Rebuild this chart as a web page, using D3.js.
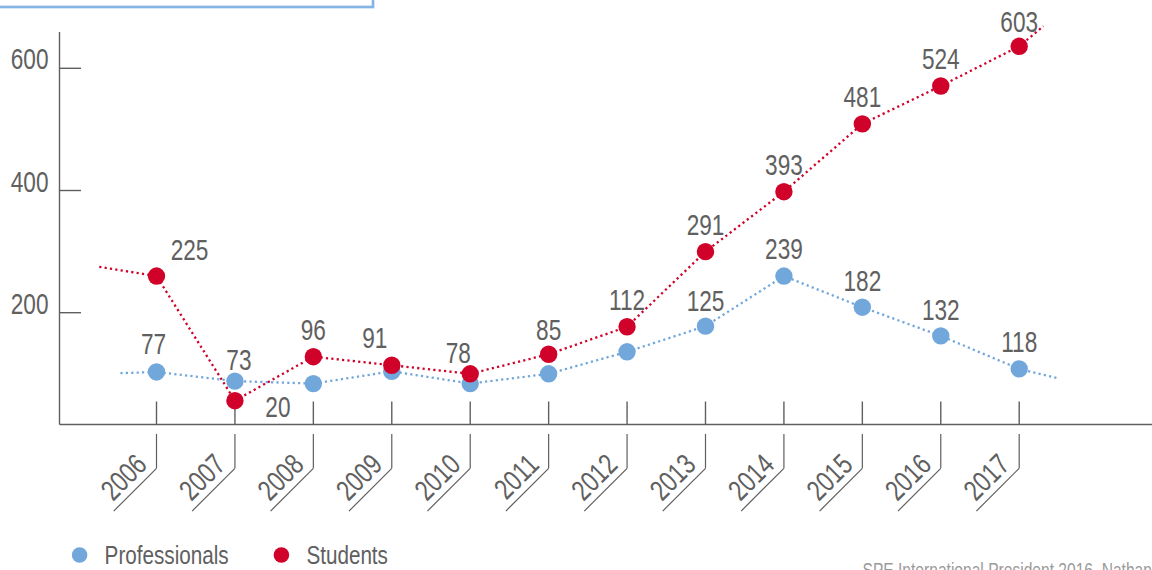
<!DOCTYPE html>
<html>
<head>
<meta charset="utf-8">
<script src="https://cdn.jsdelivr.net/npm/d3@7"></script>
<style>
  body { margin: 0; background: #fff; }
  svg { display: block; }
</style>
</head>
<body>
<div id="chart"></div>
<script>
// data
const years = [2006, 2007, 2008, 2009, 2010, 2011, 2012, 2013, 2014, 2015, 2016, 2017];
// numbers printed next to the dots (null = no label shown)
const professionals = [77, 73, null, null, null, null, null, 125, 239, 182, 132, 118];
const students = [225, 20, 96, 91, 78, 85, 112, 291, 393, 481, 524, 603];
// where the dots sit on the drawn axis (the graphic does not plot the printed numbers)
const professionalsPlot = [103, 88, 84, 104, 84, 100, 136, 178, 260, 209, 162, 108];
const studentsPlot = [260, 56, 128, 114, 100, 132, 177, 300, 398, 509, 571, 636];
// dotted lines run a little past the first and last year
const professionalsEnds = [[2005.54, 101], [2017.49, 93]];
const studentsEnds = [[2005.27, 275], [2017.31, 669]];
const yTicks = [200, 400, 600];
const legendItems = ["Professionals", "Students"];
const sourceText = "SPE International President 2016, Nathan";

const W = 1152, H = 570;
const FONT = "'Liberation Sans', Arial, sans-serif";
const NARROW = 0.78; // the original uses a condensed face; squeeze a regular one
const BLUE = "#72a7db", RED = "#d0022a", GREY = "#606060", AXIS = "#5f5f5f";

const svg = d3.select("#chart").append("svg")
  .attr("width", W)
  .attr("height", H)
  .style("font-family", FONT);

/** place a text at (px, py) squeezed horizontally */
function squeeze(px, py) {
  return "translate(" + px + "," + py + ") scale(" + NARROW + ",1)";
}

/** scales */
const x = d3.scaleLinear().domain([2006, 2017]).range([156.5, 1019.2]);
const y = d3.scaleLinear().domain([0, 600]).range([434.9, 68.3]);
const axisY = 424.5, axisX = 59.5;

/** light blue box at the top left (cut by the frame) */
svg.append("rect")
  .attr("x", -10).attr("y", -10)
  .attr("width", 383).attr("height", 17)
  .attr("fill", "#fff")
  .attr("stroke", "#86b4e4")
  .attr("stroke-width", 2.7);

/** y axis */
const gy = svg.append("g").attr("id", "y-axis");
gy.append("line")
  .attr("x1", axisX).attr("x2", axisX)
  .attr("y1", 32).attr("y2", axisY)
  .attr("stroke", AXIS).attr("stroke-width", 1.4);
gy.selectAll("line.tick")
  .data(yTicks)
  .enter().append("line")
  .attr("class", "tick")
  .attr("x1", axisX).attr("x2", 81)
  .attr("y1", d => y(d)).attr("y2", d => y(d))
  .attr("stroke", AXIS).attr("stroke-width", 1.4);
gy.selectAll("text")
  .data(yTicks)
  .enter().append("text")
  .attr("transform", d => squeeze(48.5, y(d) + 1))
  .attr("text-anchor", "end")
  .attr("fill", GREY)
  .style("font-size", "29px")
  .text(d => d);

/** x axis with the bracketed, slanted year labels */
const gx = svg.append("g").attr("id", "x-axis");
gx.append("line")
  .attr("x1", axisX).attr("x2", W)
  .attr("y1", axisY).attr("y2", axisY)
  .attr("stroke", AXIS).attr("stroke-width", 1.4);

const yearG = gx.selectAll("g.year")
  .data(years)
  .enter().append("g")
  .attr("class", "year");
yearG.append("line")
  .attr("x1", d => x(d)).attr("x2", d => x(d))
  .attr("y1", 401.5).attr("y2", axisY)
  .attr("stroke", AXIS).attr("stroke-width", 1.4);
yearG.append("line")
  .attr("x1", d => x(d)).attr("x2", d => x(d))
  .attr("y1", 434).attr("y2", 468.3)
  .attr("stroke", AXIS).attr("stroke-width", 1.2);
const slant = yearG.append("g")
  .attr("transform", d => "translate(" + x(d) + ",468.3) rotate(-45)");
slant.append("line")
  .attr("x1", 0).attr("x2", -60.5)
  .attr("y1", 0).attr("y2", 0)
  .attr("stroke", AXIS).attr("stroke-width", 1.2);
slant.append("text")
  .attr("transform", squeeze(-4.3, -7))
  .attr("text-anchor", "end")
  .attr("fill", GREY)
  .style("font-size", "29px")
  .text(d => d);

/** series */
const line = d3.line().x(d => x(d[0])).y(d => y(d[1]));

function drawSeries(name, plot, ends, color, dash) {
  const pts = [ends[0]].concat(years.map((yr, i) => [yr, plot[i]]), [ends[1]]);
  const g = svg.append("g").attr("id", name);
  g.append("path")
    .attr("d", line(pts))
    .attr("fill", "none")
    .attr("stroke", color)
    .attr("stroke-width", 2.3)
    .attr("stroke-dasharray", dash);
  g.selectAll("circle")
    .data(years)
    .enter().append("circle")
    .attr("cx", d => x(d))
    .attr("cy", (d, i) => y(plot[i]))
    .attr("r", 8.7)
    .attr("fill", color);
  return g;
}

function drawLabels(g, plot, values, offsets) {
  g.selectAll("text")
    .data(years.filter((d, i) => values[i] != null))
    .enter().append("text")
    .attr("transform", d => squeeze(
      x(d) + ((offsets[d] || {}).dx || 0),
      y(plot[years.indexOf(d)]) + ((offsets[d] || {}).dy || -17)))
    .attr("text-anchor", "middle")
    .attr("fill", GREY)
    .style("font-size", "29px")
    .text(d => values[years.indexOf(d)]);
}

const gp = drawSeries("professionals", professionalsPlot, professionalsEnds, BLUE, "2.2 3.2");
const gs = drawSeries("students", studentsPlot, studentsEnds, RED, "2.2 3.2");

// label placement tweaks, as laid out in the graphic
drawLabels(gp, professionalsPlot, professionals, {
  2006: { dx: -3, dy: -18 }, 2007: { dx: 4, dy: -11 }, 2013: { dy: -15 },
  2015: { dy: -16 }, 2016: { dy: -16 }
});
drawLabels(gs, studentsPlot, students, {
  2006: { dx: 33, dy: -16 }, 2007: { dx: 43, dy: 16 }, 2009: { dx: -17, dy: -17 },
  2010: { dx: -12, dy: -11 }, 2011: { dy: -14 }, 2017: { dy: -14 }
});

/** legend */
const legend = svg.append("g").attr("id", "legend");
const legendX = [79.6, 281.4];
legend.selectAll("circle")
  .data(legendItems)
  .enter().append("circle")
  .attr("cx", (d, i) => legendX[i])
  .attr("cy", 555)
  .attr("r", 7.8)
  .attr("fill", (d, i) => i ? RED : BLUE);
legend.selectAll("text")
  .data(legendItems)
  .enter().append("text")
  .attr("transform", (d, i) => squeeze(legendX[i] + 25, 564))
  .attr("fill", GREY)
  .style("font-size", "26.5px")
  .text(d => d);

/** source line, cut by the bottom edge */
svg.append("text")
  .attr("transform", squeeze(862.5, 577))
  .attr("fill", "#9a9a9a")
  .style("font-size", "20px")
  .text(sourceText);
</script>
</body>
</html>
